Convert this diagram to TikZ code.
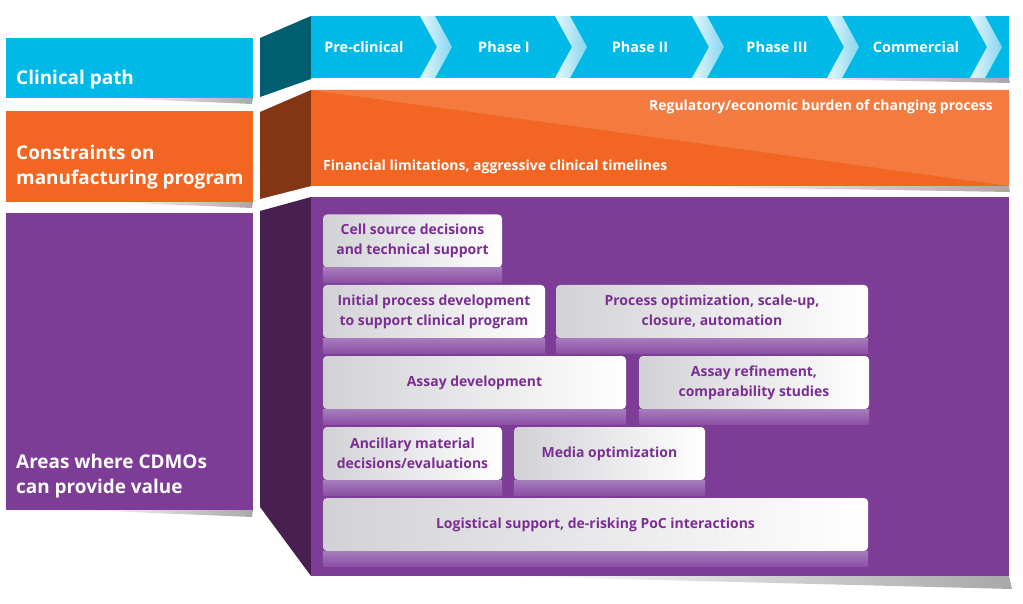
\documentclass[tikz,border=0pt]{standalone}
\usepackage{fontspec}
\setmainfont{Open Sans}
\usetikzlibrary{calc}
\definecolor{cyanA}{HTML}{00B9E6}
\definecolor{tealS}{HTML}{005E70}
\definecolor{orA}{HTML}{F26522}
\definecolor{orL}{HTML}{F37B40}
\definecolor{brS}{HTML}{843614}
\definecolor{puA}{HTML}{7D3C96}
\definecolor{puS}{HTML}{48204F}
\definecolor{boxtxt}{HTML}{7A2E92}
\definecolor{boxgray}{HTML}{D2D2D6}
\definecolor{reflT}{HTML}{A67CBC}
\definecolor{reflB}{HTML}{8C4FA5}
\definecolor{chevL}{HTML}{E6F7FD}
\definecolor{chevR}{HTML}{86D6F0}
\definecolor{shd}{HTML}{A8A8A8}
\tikzset{
  lbl/.style={text=white, font=\bfseries\fontsize{19}{25}\selectfont, align=left, anchor=west, inner sep=0},
  phase/.style={text=white, font=\bfseries\fontsize{14.5}{17}\selectfont, inner sep=0},
  otxt/.style={text=white, font=\bfseries\fontsize{14}{16}\selectfont, inner sep=0},
  wbox/.style={rounded corners=4bp, left color=boxgray, right color=white, text=boxtxt,
    font=\bfseries\fontsize{14}{20}\selectfont, align=center, minimum height=53bp, inner sep=0},
  refl/.style={top color=reflT, bottom color=reflB},
  chev/.style={left color=chevL, right color=chevR},
  shad/.style={left color=white, right color=shd}
}
\begin{document}
\begin{tikzpicture}[x=1bp,y=-1bp]
\useasboundingbox (0,0) rectangle (1023,604);
% shadows
\shade[shad] (110,98) -- (253,98) -- (252,104) -- cycle;
\shade[shad] (110,202) -- (253,202) -- (252,208) -- cycle;
\shade[shad] (80,510) -- (253,510) -- (252,517) -- cycle;
\shade[shad] (760,78) -- (1009,78) -- (1010,83) -- cycle;
\shade[shad] (650,186) -- (1009,186) -- (1010,192) -- cycle;
\shade[shad] (500,576) -- (1009,576) -- (1012,589) -- cycle;
% left label boxes
\fill[cyanA] (6,38) rectangle (253,98);
\fill[orA] (6,111) rectangle (253,202);
\fill[puA] (6,213) rectangle (253,510);
\node[lbl] (lclin) at (16,80) {Clinical path};
\node[lbl] (lcons) at (16,167) {Constraints on\\manufacturing program};
\node[lbl] (larea) at (16,476) {Areas where CDMOs\\can provide value};
% side faces
\fill[tealS] (260,38) -- (311,16) -- (311,79) -- (260,97) -- cycle;
\fill[brS] (260,112) -- (311,90) -- (311,186) -- (260,199) -- cycle;
\fill[puS] (260,211) -- (311,197) -- (311,576) -- (260,507) -- cycle;
% front faces
\fill[cyanA] (311,16) rectangle (1009,78);
\foreach \a in {420,555,692,827,970}{
  \shade[chev] (\a,16) -- (\a+15,16) -- (\a+32,47) -- (\a+15,78) -- (\a,78) -- (\a+17,47) -- cycle;
}
\fill[orA] (311,90) rectangle (1009,186);
\fill[orL] (311,90) -- (1009,90) -- (1009,186) -- cycle;
\fill[puA] (311,197) rectangle (1009,576);
% phases
\node[phase] (p0) at (364,47) {Pre-clinical};
\node[phase] (p1) at (504,47) {Phase I};
\node[phase] (p2) at (640,47) {Phase II};
\node[phase] (p3) at (777,47) {Phase III};
\node[phase] (p4) at (916,47) {Commercial};
% constraint texts
\node[otxt, anchor=east] (reg) at (993,107) {Regulatory/economic burden of changing process};
\node[otxt, anchor=west] (fin) at (323,167) {Financial limitations, aggressive clinical timelines};
% boxes
\node[wbox, minimum width=179bp] (cell) at (412.5,241) {Cell source decisions\\and technical support};
\node[wbox, minimum width=222bp] (init) at (434,311.5) {Initial process development\\to support clinical program};
\node[wbox, minimum width=312bp] (popt) at (712,311.5) {Process optimization, scale-up,\\closure, automation};
\node[wbox, minimum width=303bp] (adev) at (474.5,382.5) {Assay development};
\node[wbox, minimum width=230bp] (aref) at (754,382.5) {Assay refinement,\\comparability studies};
\node[wbox, minimum width=179bp] (anc) at (412.5,453.5) {Ancillary material\\decisions/evaluations};
\node[wbox, minimum width=191bp] (media) at (609.5,453.5) {Media optimization};
\node[wbox, minimum width=545bp] (logi) at (595.5,524.5) {Logistical support, de-risking PoC interactions};
\foreach \b in {cell,init,popt,adev,aref,anc,media,logi}{
  \shade[refl] (\b.south west) rectangle ($(\b.south east)+(0,15)$);
}
\end{tikzpicture}
\end{document}
